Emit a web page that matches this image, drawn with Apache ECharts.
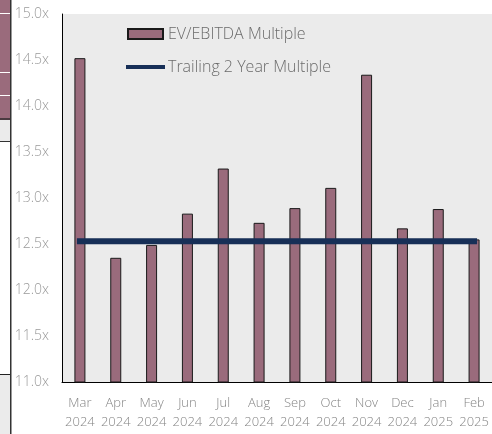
<!DOCTYPE html>
<html>
<head>
<meta charset="utf-8">
<script src="https://cdn.jsdelivr.net/npm/echarts@6/dist/echarts.min.js"></script>
<style>
  html, body { margin: 0; padding: 0; background: #fff; }
  #chart { width: 492px; height: 434px; }
</style>
</head>
<body>
<div id="chart"></div>
<script>
// data
const months = ['Mar\n2024', 'Apr\n2024', 'May\n2024', 'Jun\n2024', 'Jul\n2024', 'Aug\n2024',
  'Sep\n2024', 'Oct\n2024', 'Nov\n2024', 'Dec\n2024', 'Jan\n2025', 'Feb\n2025'];
const multiples = [14.52, 12.35, 12.49, 12.83, 13.32, 12.73, 12.89, 13.11, 14.34, 12.67, 12.88, 12.55];
const trailing = [12.53, 12.53, 12.53, 12.53, 12.53, 12.53, 12.53, 12.53, 12.53, 12.53, 12.53, 12.53];

const chart = echarts.init(document.getElementById('chart'));

chart.setOption({
  animation: false,
  textStyle: { fontFamily: 'Open Sans' },
  grid: { left: 62, right: 0, top: 14, bottom: 52, show: true, backgroundColor: '#ebebeb', borderWidth: 0 },
  legend: {
    orient: 'vertical',
    left: 121,
    top: 21,
    itemGap: 17,
    itemWidth: 35,
    itemHeight: 10,
    textStyle: { color: '#6b6b6b', fontSize: 16, fontFamily: 'Open Sans', fontWeight: 300 },
    data: [
      { name: 'EV/EBITDA Multiple', icon: 'rect' },
      { name: 'Trailing 2 Year Multiple', itemStyle: { opacity: 0 }, lineStyle: { width: 4 } }
    ]
  },
  xAxis: {
    type: 'category',
    data: months,
    axisLine: { lineStyle: { color: '#000', width: 1 } },
    axisTick: { alignWithLabel: true, length: 4, lineStyle: { color: '#000' } },
    axisLabel: { color: '#858585', fontSize: 13, lineHeight: 19, margin: 12, interval: 0, fontWeight: 300 }
  },
  yAxis: {
    type: 'value',
    min: 11,
    max: 15,
    interval: 0.5,
    axisLine: { show: true, lineStyle: { color: '#000', width: 1 } },
    axisTick: { show: false },
    splitLine: { show: false },
    axisLabel: { color: '#9a9a9a', fontSize: 14, margin: 13, fontWeight: 300, formatter: v => v.toFixed(1) + 'x' }
  },
  series: [
    {
      name: 'EV/EBITDA Multiple',
      type: 'bar',
      data: multiples,
      barWidth: 11,
      itemStyle: { color: '#9a6b7c', borderColor: '#1a1a1a', borderWidth: 1 }
    },
    {
      name: 'Trailing 2 Year Multiple',
      type: 'line',
      data: trailing,
      symbol: 'none',
      lineStyle: { color: '#172f57', width: 6, cap: 'square' },
      itemStyle: { color: '#172f57' }
    }
  ],
  graphic: [
    // cropped remnant of a neighbouring chart on the left edge
    { type: 'rect', shape: { x: 0, y: 0, width: 10, height: 118 }, style: { fill: '#9a6b7c' } },
    { type: 'rect', shape: { x: 0, y: 13, width: 10, height: 1 }, style: { fill: '#fff' } },
    { type: 'rect', shape: { x: 0, y: 72, width: 10, height: 1 }, style: { fill: '#fff' } },
    { type: 'rect', shape: { x: 0, y: 95, width: 10, height: 1 }, style: { fill: '#fff' } },
    { type: 'rect', shape: { x: 0, y: 118, width: 10, height: 2 }, style: { fill: '#4a3a40' } },
    { type: 'rect', shape: { x: 0, y: 120, width: 10, height: 21 }, style: { fill: '#ebebeb' } },
    { type: 'rect', shape: { x: 0, y: 141, width: 10, height: 1 }, style: { fill: '#333' } },
    { type: 'rect', shape: { x: 0, y: 374, width: 10, height: 1 }, style: { fill: '#222' } },
    { type: 'rect', shape: { x: 0, y: 375, width: 10, height: 59 }, style: { fill: '#ebebeb' } },
    { type: 'rect', shape: { x: 10, y: 0, width: 1.5, height: 434 }, style: { fill: '#333' } }
  ]
});
</script>
</body>
</html>
